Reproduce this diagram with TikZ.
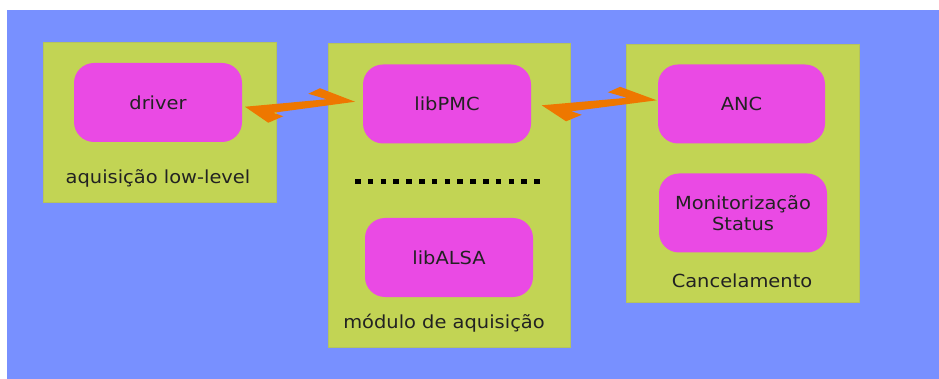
\documentclass[tikz,border=0pt]{standalone}
\usepackage{fontspec}
\setmainfont{DejaVu Sans}[FakeStretch=1.08]
\usetikzlibrary{calc}

\definecolor{bgblue}{HTML}{7890FF}
\definecolor{panelgreen}{HTML}{C2D454}
\definecolor{modpink}{HTML}{EA4AE4}
\definecolor{linkorange}{HTML}{EE7700}
\definecolor{inktext}{HTML}{222222}

\tikzset{
  panel/.style={fill=panelgreen, draw=panelgreen!80!gray, line width=0.6pt, inner sep=0pt},
  module/.style={fill=modpink, rounded corners=20pt, inner sep=0pt,
    minimum width=168pt, minimum height=79pt, text=inktext,
    font=\fontsize{18}{20.5}\selectfont, align=center},
  caption/.style={text=inktext, font=\fontsize{18}{20}\selectfont, inner sep=0pt},
  % double-ended harpoon link, centred on its placement point
  zlink/.pic={
    \fill[linkorange] (-55,3) -- (26.7,-4.5) -- (8.3,-10) -- (20,-15.5)
      -- (55,-2) -- (-26.7,9) -- (-16.7,12.5) -- (-31.7,19) -- cycle;
  }
}

\begin{document}
\begin{tikzpicture}[x=1pt,y=-1pt]
\useasboundingbox (0,0) rectangle (939,379);
\fill[bgblue] (7,10) rectangle (939,379);

% panels
\node[panel, minimum width=233pt, minimum height=160pt] (lowlevel) at (159.5,122) {};
\node[panel, minimum width=242pt, minimum height=304pt] (acq) at (449,195) {};
\node[panel, minimum width=233pt, minimum height=258pt] (cancel) at (742.5,173) {};

% modules
\node[module] (driver) at (158,102.5) {driver};
\node[module] (libpmc) at (447,104) {libPMC};
\node[module] (libalsa) at (449,257.5) {libALSA};
\node[module, minimum width=167pt] (anc) at (741.5,104) {ANC};
\node[module] (monitor) at (743,213) {Monitorização\\Status};

% panel captions
\node[caption] (capll) at (158,178) {aquisição low-level};
\node[caption] (capacq) at (444,323) {módulo de aquisição};
\node[caption] (capcancel) at (742,281) {Cancelamento};

% separator between libPMC and libALSA
\coordinate (sepL) at (355,181.7);
\coordinate (sepR) at (540,181.7);
\draw[black, line width=5.5pt, dash pattern=on 5.5pt off 7.3pt] (sepL) -- (sepR);

% links between modules
\path ($(driver.east)!0.5!(libpmc.west)$) ++(-2.5,0.5) pic {zlink};
\path ($(libpmc.east)!0.5!(anc.west)$) ++(4.7,-1.7) pic[xscale=1.045] {zlink};
\end{tikzpicture}
\end{document}
